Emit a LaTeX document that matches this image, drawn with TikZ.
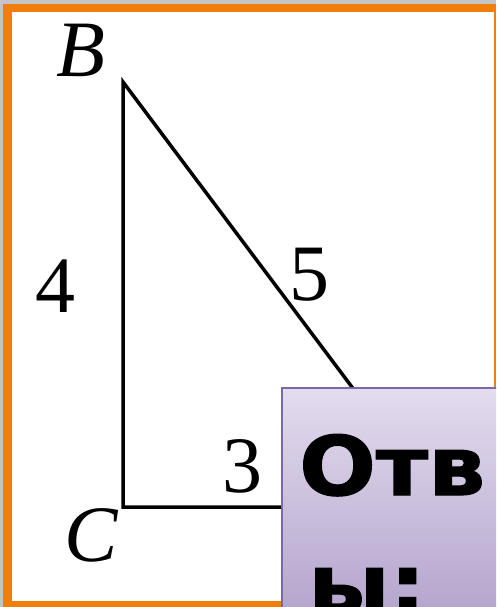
\documentclass[tikz,border=0pt]{standalone}
\usepackage{fontspec}
\setmainfont{Liberation Serif}
\newfontfamily\answerfont[FakeBold=1.5]{DejaVu Sans}
\usetikzlibrary{positioning}
\definecolor{FrameOrange}{HTML}{F07E0A}
\definecolor{FrameGray}{HTML}{C4C4C4}
\definecolor{BoxEdge}{HTML}{7C68A6}
\definecolor{BoxTop}{HTML}{E3DCEE}
\definecolor{BoxBottom}{HTML}{B3A3CC}

\begin{document}
\begin{tikzpicture}[
    x=1pt,y=-1pt,
    side/.style={black,line width=3.5pt,line join=miter},
    lbl/.style={font=\fontsize{80}{80}\selectfont,inner sep=0pt},
    answerbox/.style={draw=BoxEdge,line width=2pt,top color=BoxTop,bottom color=BoxBottom},
    answer/.style={font=\answerfont\bfseries\fontsize{82}{82}\selectfont,inner sep=0pt,anchor=base west,xscale=1.1}
  ]
    \useasboundingbox (0,0) rectangle (496,607);
    \clip (0,0) rectangle (496,607);
    % frame
    \fill[FrameGray] (0,0) rectangle (496,607);
    \fill[FrameOrange] (3,4) rectangle (496,607);
    \fill[white] (12,12) rectangle (494,601);
    % triangle
    \coordinate (B) at (123,82);
    \coordinate (C) at (123,507);
    \coordinate (A) at (442,507);
    \draw[side] (B) -- (C) -- (A) -- cycle;
    \node[lbl] (labB) at (81,50) {\itshape B};
    \node[lbl] (labC) at (91,535) {\itshape C};
    \node[lbl] (labBC) at (55,286) {4};
    \node[lbl] (labAB) at (309,275) {5};
    \node[lbl] (labCA) at (242,466) {3};
    % answer box
    \draw[answerbox] (282,388) rectangle (510,620);
    \node[answer] (ans1) at (299,495) {Отв};
    \node[answer] (ans2) at (308,613) {ы:};
  \end{tikzpicture}
\end{document}
